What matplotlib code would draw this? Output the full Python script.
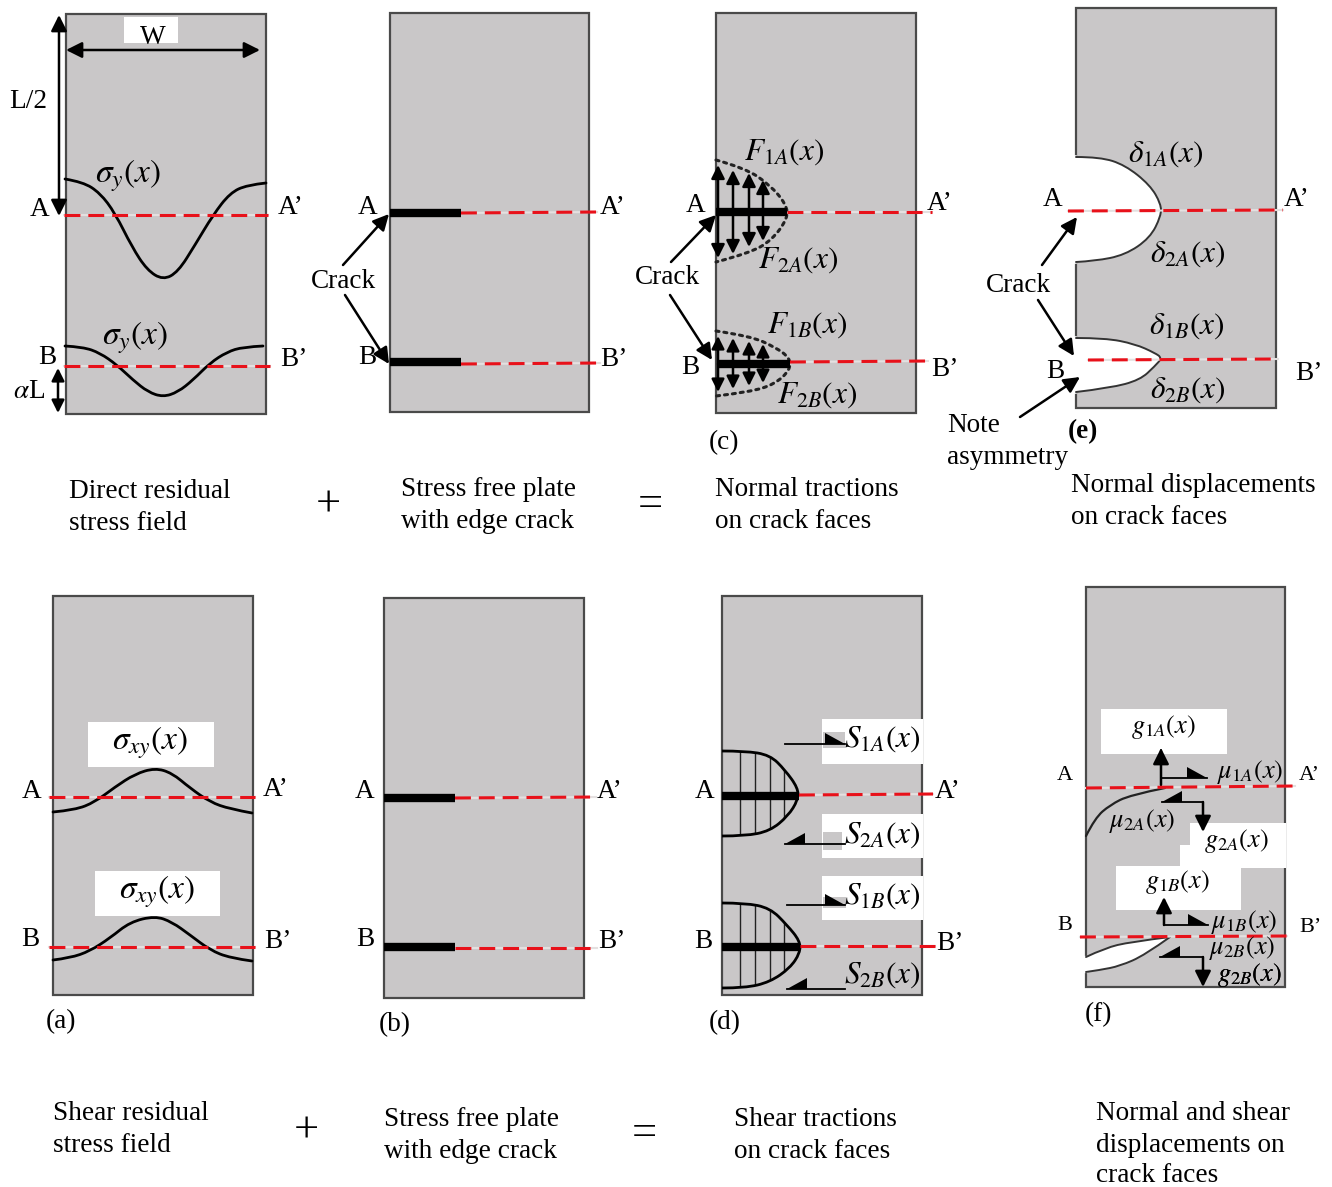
import matplotlib
matplotlib.use('Agg')
import matplotlib.pyplot as plt
from matplotlib.path import Path
from matplotlib.patches import PathPatch, Rectangle, Polygon

plt.rcParams['font.family'] = ['Liberation Serif', 'DejaVu Serif']
plt.rcParams['mathtext.fontset'] = 'stix'

GRAY = '#c9c7c8'
EDGE = '#4a4a4a'
TXT_SIZE = 19.6
MATH_SIZE = 22.5
TXT_SHIFT = 2

# plates: x0, y0, x1, y1
plates = [(66, 14, 266, 414), (390, 13, 589, 412), (716, 13, 916, 413), (1076, 8, 1276, 408),
          (53, 596, 253, 995), (384, 598, 584, 998), (722, 596, 922, 995), (1086, 587, 1285, 987)]

# dashed section lines
dashes = [(64, 215, 268, 215), (64, 366, 270, 366), (461, 213, 597, 212), (461, 364, 600, 363),
          (787, 212, 932, 212), (790, 362, 928, 361), (1068, 211, 1283, 210), (1088, 360, 1278, 359),
          (49, 797, 255, 797), (49, 947, 255, 947), (455, 798, 596, 797), (455, 948, 597, 948),
          (799, 795, 933, 794), (800, 946, 935, 946), (1086, 788, 1295, 786), (1080, 937, 1287, 936)]

# cracks
bars = [(390, 461, 213), (390, 461, 362), (716, 787, 212), (717, 790, 364),
        (384, 455, 798), (384, 455, 947), (722, 799, 796), (722, 799, 947)]

# residual stress curves
sigma_y_a = [(65, 179), (83, 182), (100, 193), (115, 213), (132, 247), (147, 270), (163, 280),
             (178, 272), (195, 245), (213, 215), (230, 193), (247, 185), (266, 183)]
sigma_y_b = [(65, 346), (83, 347), (100, 353), (117, 365), (133, 380), (148, 392), (163, 397),
             (178, 392), (193, 380), (210, 363), (227, 352), (243, 347), (263, 346)]
sigma_xy_a = [(53, 812), (75, 810), (95, 802), (115, 787), (135, 774), (155, 768), (172, 773),
              (190, 788), (210, 802), (230, 809), (252, 813)]
sigma_xy_b = [(53, 960), (70, 958), (90, 951), (110, 938), (130, 922), (155, 916), (172, 922),
              (190, 935), (210, 950), (230, 958), (252, 961)]

# traction / displacement outlines
f_a = [(716, 160), (745, 168), (770, 185), (786, 204), (788, 218), (772, 240), (750, 253), (716, 262)]
f_b = [(716, 331), (750, 336), (775, 347), (790, 358), (790, 370), (775, 384), (750, 392), (716, 396)]
s_a = [(722, 751), (745, 751), (770, 755), (785, 770), (798, 788), (798, 800), (788, 816), (770, 831), (745, 836), (722, 836)]
s_b = [(722, 903), (745, 903), (770, 908), (787, 925), (800, 941), (800, 953), (790, 968), (770, 982), (745, 988), (722, 988)]
notch_a = [(1076, 157), (1100, 157), (1125, 165), (1150, 185), (1161, 204), (1161, 216), (1150, 238), (1125, 255), (1095, 261), (1076, 262)]
notch_b = [(1076, 338), (1105, 338), (1135, 344), (1155, 353), (1162, 358), (1155, 366), (1140, 380), (1110, 388), (1076, 392)]
shear_crack_a = [(1086, 836), (1095, 818), (1110, 805), (1130, 795), (1165, 788)]
lens_top = [(1086, 957), (1105, 948), (1130, 942), (1170, 937)]
lens_low = [(1170, 937), (1145, 955), (1120, 966), (1100, 970), (1086, 972)]

# white masks behind labels
masks = [(124, 17, 178, 43), (88, 722, 214, 767), (95, 871, 220, 916),
         (822, 719, 923, 764), (822, 814, 923, 858), (822, 876, 923, 920),
         (1101, 709, 1227, 754), (1116, 866, 1241, 910)]
mask_g2a = [(1190, 823), (1286, 823), (1286, 868), (1116, 868), (1180, 868), (1180, 845), (1190, 845)]
# gray slips left inside the white masks, under the shear arrows
slips = [(823, 732, 845, 748), (823, 832, 842, 850), (823, 897, 846, 908)]

# double and single headed arrows: x0, y0, x1, y1, head size
double_arrows = [(59, 15, 59, 216, 24), (66, 50, 260, 50, 24), (58, 368, 58, 413, 19)]
arrows = [(343, 265, 389, 214), (345, 295, 389, 364), (671, 262, 716, 215), (670, 295, 712, 360),
          (1042, 265, 1077, 217), (1038, 300, 1074, 356), (1020, 417, 1080, 377),
          (1161, 785, 1161, 748), (1203, 802, 1203, 832), (1164, 925, 1164, 897), (1203, 957, 1203, 987)]
force_x = [718, 733, 749, 763]
force_a_up = [165, 170, 173, 180]
force_a_down = [258, 254, 247, 241]
force_b_up = [336, 338, 341, 344]
force_b_down = [392, 389, 386, 383]
bar_a_y = 212
bar_b_y = 364
hatch_a = [740, 755, 770, 784]
hatch_b = [740, 755, 770, 784]

# shear arrows with half heads: tail x, tip x, y
half_arrows = [(785, 845, 744), (845, 785, 844), (787, 845, 905), (845, 787, 989),
               (1161, 1207, 778), (1203, 1162, 802), (1164, 1208, 925), (1203, 1160, 957)]

# point labels
point_labels = [('A', 40, 207), ("A’", 291, 206), ('B', 47, 356), ("B’", 294, 358),
                ('A', 368, 206), ("A’", 613, 205), ('B', 367, 356), ("B’", 614, 357),
                ('A', 696, 203), ("A’", 940, 202), ('B', 690, 366), ("B’", 945, 368),
                ('A', 1053, 198), ("A’", 1297, 198), ('B', 1055, 370), ("B’", 1309, 372),
                ('A', 32, 789), ("A’", 276, 788), ('B', 30, 938), ("B’", 278, 940),
                ('A', 365, 789), ("A’", 610, 789), ('B', 365, 938), ("B’", 612, 940),
                ('A', 705, 790), ("A’", 948, 790), ('B', 703, 939), ("B’", 950, 941),
                ('W', 153, 35), ('L/2', 28, 99), ('$\\alpha$L', 29, 390),
                ('Crack', 343, 279), ('Crack', 667, 276), ('Crack', 1018, 284),
                ('(c)', 724, 441), ('(a)', 61, 1020), ('(b)', 395, 1023), ('(d)', 725, 1021), ('(f)', 1099, 1013)]
small_labels = [('A', 1065, 773), ("A’", 1309, 773), ('B', 1065, 923), ("B’", 1311, 925)]

math_labels = [('F_{1A}(x)', 784, 150), ('F_{2A}(x)', 798, 258), ('F_{1B}(x)', 807, 323), ('F_{2B}(x)', 817, 393),
               ('\\delta_{1A}(x)', 1166, 152), ('\\delta_{2A}(x)', 1188, 252),
               ('\\delta_{1B}(x)', 1187, 324), ('\\delta_{2B}(x)', 1188, 388),
               ('S_{1A}(x)', 882, 737), ('S_{2A}(x)', 882, 833), ('S_{1B}(x)', 882, 894), ('S_{2B}(x)', 882, 973)]
sigma_labels = [('\\sigma_y(x)', 128, 174), ('\\sigma_y(x)', 135, 336),
                ('\\sigma_{xy}(x)', 150, 741), ('\\sigma_{xy}(x)', 157, 890)]
math_small = [('g_{1A}(x)', 1163, 725), ('\\mu_{1A}(x)', 1250, 770), ('\\mu_{2A}(x)', 1142, 819),
              ('g_{2A}(x)', 1236, 839), ('g_{1B}(x)', 1177, 880), ('\\mu_{1B}(x)', 1244, 920),
              ('\\mu_{2B}(x)', 1242, 946)]

captions = [('Direct residual', 69, 489), ('stress field', 69, 521),
            ('Stress free plate', 401, 488), ('with edge crack', 401, 520),
            ('Normal tractions', 715, 487), ('on crack faces', 715, 519),
            ('Normal displacements', 1071, 484), ('on crack faces', 1071, 516),
            ('Note', 947, 424), ('asymmetry', 947, 456),
            ('Shear residual', 53, 1111), ('stress field', 53, 1143),
            ('Stress free plate', 384, 1117), ('with edge crack', 384, 1149),
            ('Shear tractions', 734, 1118), ('on crack faces', 734, 1150),
            ('Normal and shear', 1096, 1111), ('displacements on', 1096, 1143), ('crack faces', 1096, 1174)]
operators = [('+', 328, 505), ('=', 650, 505), ('+', 306, 1131), ('=', 644, 1134)]


def smooth(points):
    # quadratic spline through the midpoints, keeps the end points
    verts = [points[0]]
    codes = [Path.MOVETO]
    for i in range(1, len(points) - 1):
        p = points[i]
        q = points[i + 1]
        if i < len(points) - 2:
            end = ((p[0] + q[0]) / 2, (p[1] + q[1]) / 2)
        else:
            end = q
        verts += [p, end]
        codes += [Path.CURVE3, Path.CURVE3]
    return Path(verts, codes)


def curve(ax, points, lw=2.0, ls='-', color='black', z=4):
    ax.add_patch(PathPatch(smooth(points), fc='none', ec=color, lw=lw, ls=ls, zorder=z, capstyle='round'))


def arrow(ax, x0, y0, x1, y1, style='-|>', ms=24, lw=1.8, z=6):
    ax.annotate('', xy=(x1, y1), xytext=(x0, y0), zorder=z,
                arrowprops=dict(arrowstyle=style, color='black', lw=lw, mutation_scale=ms,
                                shrinkA=0, shrinkB=0))


fig = plt.figure(figsize=(13.32, 11.87), dpi=100)
ax = fig.add_axes([0, 0, 1, 1])
ax.set_xlim(0, 1332)
ax.set_ylim(1187, 0)
ax.axis('off')

for x0, y0, x1, y1 in plates:
    ax.add_patch(Rectangle((x0, y0), x1 - x0, y1 - y0, fc=GRAY, ec=EDGE, lw=1.6, zorder=1))

# openings in panels (e) and (f)
for pts in (notch_a, notch_b):
    ax.add_patch(PathPatch(smooth(pts), fc='white', ec='none', zorder=2))
    ax.plot([pts[0][0] - 2, pts[-1][0] - 2], [pts[0][1] + 1, pts[-1][1] - 1], color='white', lw=4, zorder=2)
    curve(ax, pts, lw=1.4, color='#333333', z=3)
lens = Path(list(smooth(lens_top).vertices) + list(smooth(lens_low).vertices)[1:],
            list(smooth(lens_top).codes) + list(smooth(lens_low).codes)[1:])
ax.add_patch(PathPatch(lens, fc='white', ec='none', zorder=2))
ax.plot([1086, 1086], [958, 971], color='white', lw=3, zorder=2)
curve(ax, lens_top, lw=1.4, color='#333333', z=3)
curve(ax, lens_low, lw=1.4, color='#333333', z=3)
curve(ax, shear_crack_a, lw=1.6, color='#222222', z=3)

for x0, y0, x1, y1 in masks:
    ax.add_patch(Rectangle((x0, y0), x1 - x0, y1 - y0, fc='white', ec='none', zorder=2))
ax.add_patch(Polygon(mask_g2a, fc='white', ec='none', zorder=2))
for x0, y0, x1, y1 in slips:
    ax.add_patch(Rectangle((x0, y0), x1 - x0, y1 - y0, fc=GRAY, ec='none', zorder=2))

for x0, y0, x1, y1 in dashes:
    ax.plot([x0, x1], [y0, y1], color='#e4e0e0', lw=1.5, zorder=3)
    ax.plot([x0, x1], [y0, y1], color='#e8111a', lw=2.2, ls=(0, (5.2, 2.6)), zorder=7)

for x0, x1, y in bars:
    ax.plot([x0, x1], [y, y], color='black', lw=6, solid_capstyle='butt', zorder=8)

for pts in (sigma_y_a, sigma_y_b, sigma_xy_a, sigma_xy_b):
    curve(ax, pts)

curve(ax, f_a, lw=2.2, ls=(0, (1, 1.6)), color='#222222')
curve(ax, f_b, lw=2.2, ls=(0, (1, 1.6)), color='#222222')

# hatched shear distributions
for pts, xs in ((s_a, hatch_a), (s_b, hatch_b)):
    patch = PathPatch(smooth(pts), fc='none', ec='black', lw=2.0, zorder=4)
    ax.add_patch(patch)
    for x in xs:
        line, = ax.plot([x, x], [pts[0][1], pts[-1][1]], color='#222222', lw=1.0, zorder=3)
        line.set_clip_path(patch)

for x, up, down in zip(force_x, force_a_up, force_a_down):
    arrow(ax, x, bar_a_y, x, up, ms=20)
    arrow(ax, x, bar_a_y, x, down, ms=20)
for x, up, down in zip(force_x, force_b_up, force_b_down):
    arrow(ax, x, bar_b_y, x, up, ms=19)
    arrow(ax, x, bar_b_y, x, down, ms=19)

for x0, y0, x1, y1, ms in double_arrows:
    arrow(ax, x0, y0, x1, y1, style='<|-|>', ms=ms)
for x0, y0, x1, y1 in arrows:
    arrow(ax, x0, y0, x1, y1)

for x0, x1, y in half_arrows:
    ax.plot([x0, x1], [y, y], color='black', lw=1.3, zorder=6)
    back = x1 - 20 if x1 > x0 else x1 + 20
    ax.add_patch(Polygon([(x1, y), (back, y), (back, y - 11)], fc='black', ec='none', zorder=6))
# stems of the combined arrows in panel (f)
ax.plot([1161, 1161], [778, 750], color='black', lw=1.3, zorder=6)
ax.plot([1164, 1164], [925, 900], color='black', lw=1.3, zorder=6)

for s, x, y in point_labels:
    ax.text(x, y + TXT_SHIFT, s, fontsize=TXT_SIZE, ha='center', va='center', zorder=9)
for s, x, y in small_labels:
    ax.text(x, y + TXT_SHIFT, s, fontsize=16, ha='center', va='center', zorder=9)
for s, x, y in captions:
    ax.text(x, y + TXT_SHIFT, s, fontsize=TXT_SIZE, ha='left', va='center', zorder=9)
for s, x, y in operators:
    ax.text(x, y, s, fontsize=32, ha='center', va='center', zorder=9)
for s, x, y in math_labels:
    ax.text(x, y + TXT_SHIFT, '$' + s + '$', fontsize=MATH_SIZE, ha='center', va='center', zorder=9)
for s, x, y in sigma_labels:
    ax.text(x, y + TXT_SHIFT, '$' + s + '$', fontsize=24, ha='center', va='center', zorder=9)
for s, x, y in math_small:
    ax.text(x, y + TXT_SHIFT, '$' + s + '$', fontsize=19, ha='center', va='center', zorder=9)
# this label is drawn twice over in the original
for dx in (0, 0.7):
    ax.text(1249 + dx, 973 + TXT_SHIFT, '$g_{2B}(x)$', fontsize=19, ha='center', va='center', zorder=9)
ax.text(1083, 430 + TXT_SHIFT, '(e)', fontsize=TXT_SIZE, fontweight='bold', ha='center', va='center', zorder=9)

fig.savefig('out.png', dpi=100)
